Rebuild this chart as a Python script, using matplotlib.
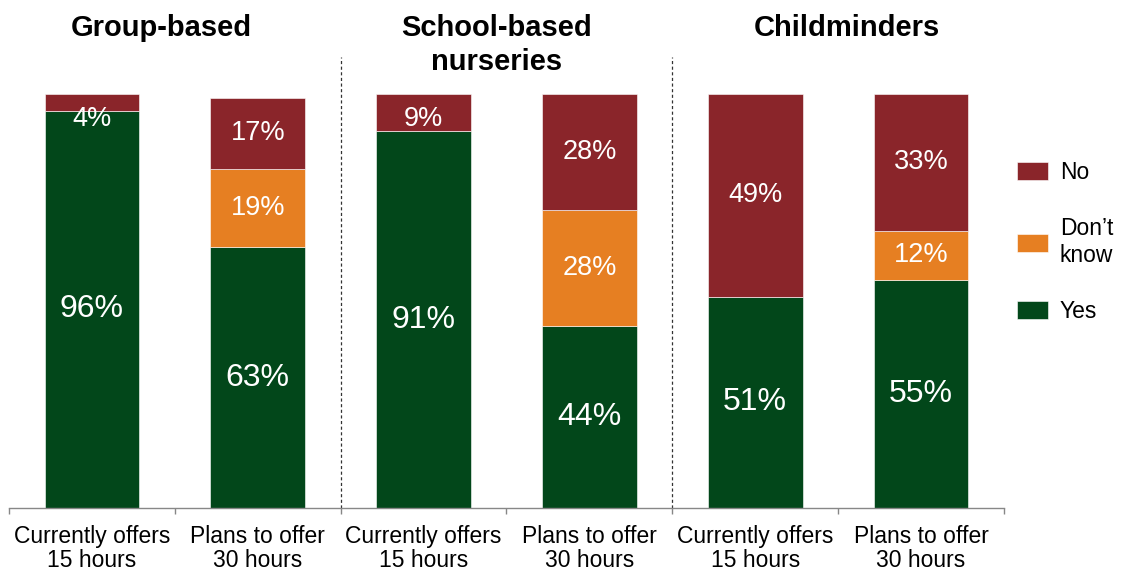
import matplotlib
matplotlib.use("Agg")
import matplotlib.pyplot as plt
import numpy as np

plt.rcParams['font.family'] = ['Liberation Sans', 'DejaVu Sans']

# datos
categorias = ["Currently offers\n15 hours", "Plans to offer\n30 hours",
              "Currently offers\n15 hours", "Plans to offer\n30 hours",
              "Currently offers\n15 hours", "Plans to offer\n30 hours"]
grupos = ["Group-based", "School-based\nnurseries", "Childminders"]
yes = [96, 63, 91, 44, 51, 55]
dont_know = [0, 19, 0, 28, 0, 12]
no = [4, 17, 9, 28, 49, 33]

series = [("Yes", yes, "#02471a"), ("Don\u2019t\nknow", dont_know, "#e67f22"), ("No", no, "#8a252a")]

fig = plt.figure(figsize=(11.23, 5.72), dpi=100)
ax = fig.add_axes([9/1123, 64/572, 995/1123, 414/572])

x = np.arange(len(categorias))
base = np.zeros(len(categorias))
handles = []
for nombre, vals, color in series:
    vals = np.array(vals, dtype=float)
    b = ax.bar(x, vals, 0.57, bottom=base, color=color, edgecolor='white', linewidth=0.4)
    handles.append((b, nombre))
    for xi, v, b0 in zip(x, vals, base):
        if v <= 0:
            continue
        yc = min(b0 + v / 2, 94)  # mantener la etiqueta dentro del area
        fs = 23 if nombre == "Yes" else 19.5
        ax.text(xi, yc, f"{int(v)}%", ha='center', va='center', color='white', fontsize=fs)
    base = base + vals

ax.set_xlim(-0.5, len(categorias) - 0.5)
ax.set_ylim(0, 100)
ax.set_yticks([])
for s in ['top', 'right', 'left']:
    ax.spines[s].set_visible(False)
ax.spines['bottom'].set_color('#878787')
ax.spines['bottom'].set_linewidth(1)

ax.set_xticks(x)
ax.set_xticklabels(categorias, fontsize=16.5, linespacing=1.05)
ax.tick_params(axis='x', which='major', length=0, pad=12)
ax.set_xticks(np.arange(-0.5, len(categorias)), minor=True)
ax.tick_params(axis='x', which='minor', length=4.5, color='#878787', width=1)

# lineas divisorias entre grupos
for xd in [1.5, 3.5]:
    ax.plot([xd, xd], [0, 109], color='#333333', lw=0.9, linestyle=(0, (2.5, 2)), clip_on=False)

# titulos de grupo
for xt, t in zip([0.42, 2.44, 4.55], grupos):
    ax.text(xt, 119.3, t, ha='center', va='top', fontsize=21, fontweight='bold',
            linespacing=1.25, clip_on=False)

hs = [h[0] for h in handles][::-1]
ls = [h[1] for h in handles][::-1]
fig.legend(hs, ls, loc='center left', bbox_to_anchor=(1017/1123, 1 - 242/572),
           frameon=False, fontsize=16.5, borderpad=0, borderaxespad=0,
           handlelength=1.35, handleheight=0.79, handletextpad=0.52, labelspacing=1.45)

fig.savefig("out.png", dpi=100)
